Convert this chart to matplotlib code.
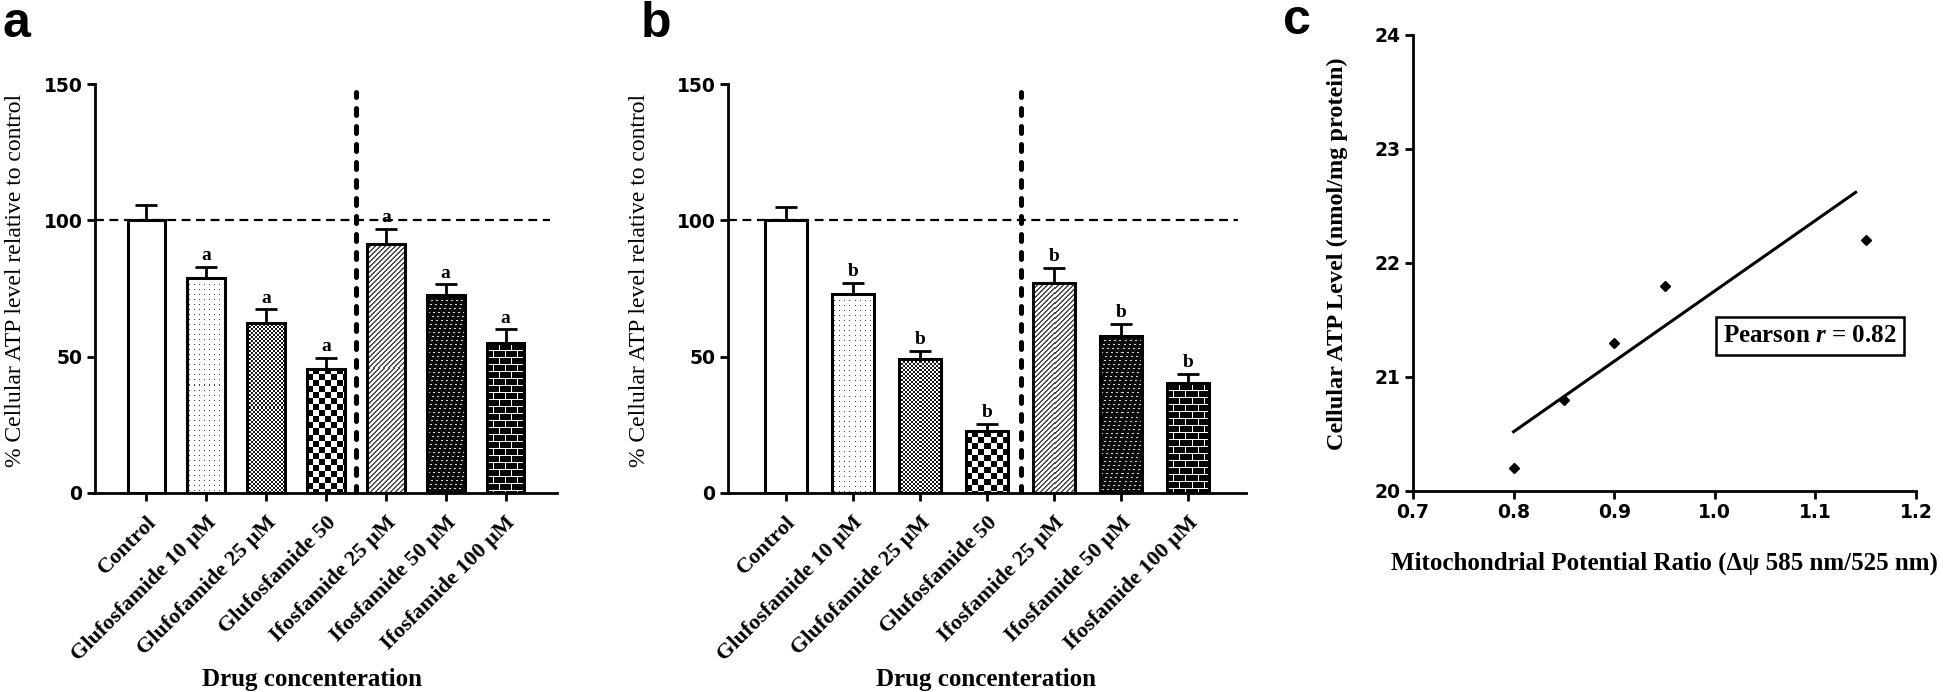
import numpy as np
import matplotlib.pyplot as plt

plt.rcParams['font.family'] = ['Liberation Serif', 'DejaVu Serif']
plt.rcParams['mathtext.fontset'] = 'custom'
plt.rcParams['mathtext.it'] = 'Liberation Serif:italic:bold'
plt.rcParams['mathtext.rm'] = 'Liberation Serif:bold'

# data
groups = ['Control', 'Glufosfamide 10 μM', 'Glufofamide 25 μM', 'Glufosfamide 50',
          'Ifosfamide 25 μM', 'Ifosfamide 50 μM', 'Ifosfamide 100 μM']
atp_a = [100, 79, 62.5, 45.5, 91.5, 72.5, 55]
err_a = [5.5, 4, 4.8, 4, 5.5, 4, 5]
sig_a = ['', 'a', 'a', 'a', 'a', 'a', 'a']
atp_b = [100, 73, 49, 22.7, 77, 57.7, 40.3]
err_b = [5, 4, 3, 2.5, 5.5, 4.3, 3.4]
sig_b = ['', 'b', 'b', 'b', 'b', 'b', 'b']
patterns = ['none', 'dots', 'fine', 'checker', 'diag', 'dash', 'brick']

mito_ratio = [0.8, 0.85, 0.9, 0.95, 1.15]
atp_level = [20.2, 20.8, 21.3, 21.8, 22.2]
fit_x = [0.8, 1.14]
fit_y = [20.52, 22.62]

num_font = 'DejaVu Sans'
W, H = 1943, 692
fig = plt.figure(figsize=(W / 100, H / 100), dpi=100)


def make_pattern(kind, nr, nc):
    i, j = np.mgrid[0:nr, 0:nc]
    if kind == 'dots':
        return ((i % 5 == 2) & (j % 5 == 2)) * 0.75
    if kind == 'fine':
        return ((i // 2 + j // 2) % 2) * 0.9
    if kind == 'checker':
        return ((i // 6 + j // 6) % 2) * 1.0
    if kind == 'diag':
        return ((i + j) % 5 < 2) * 0.7
    if kind == 'dash':
        white = (i % 4 == 1) & ((j + i // 4) % 5 < 2)
        return np.where(white, 0.15, 0.95)
    if kind == 'brick':
        row = i // 7
        mortar = (i % 7 == 0) | ((j + (row % 2) * 6) % 12 == 0)
        return np.where(mortar, 0.0, 1.0)
    return np.zeros((nr, nc))


def style_numbers(ax, size=13.5):
    for lab in ax.get_yticklabels():
        lab.set_fontfamily(num_font)
        lab.set_fontweight('bold')
        lab.set_fontsize(size)
    for sp in ['top', 'right']:
        ax.spines[sp].set_visible(False)
    for sp in ['left', 'bottom']:
        ax.spines[sp].set_linewidth(2)
    ax.tick_params(direction='out', length=6, width=2, pad=3)


def bar_panel(ax, vals, errs, sigs, pos):
    ax.set_position(pos)
    x = np.arange(len(groups))
    ax.set_xlim(-0.86, len(groups) - 0.14)
    ax.set_ylim(0, 150)
    bars = ax.bar(x, vals, 0.63, color='white', edgecolor='none', zorder=2)
    for rect, kind in zip(bars, patterns):
        if kind == 'none':
            continue
        x0, w, h = rect.get_x(), rect.get_width(), rect.get_height()
        (px0, py0), (px1, py1) = ax.transData.transform([(x0, 0), (x0 + w, h)])
        arr = make_pattern(kind, max(int(round(py1 - py0)), 1), max(int(round(px1 - px0)), 1))
        ax.imshow(arr, extent=(x0, x0 + w, 0, h), aspect='auto', interpolation='nearest',
                  cmap='gray_r', vmin=0, vmax=1, zorder=2.5)
    ax.bar(x, vals, 0.63, fill=False, edgecolor='black', linewidth=2.2, zorder=3)
    ax.errorbar(x, vals, yerr=[np.zeros(len(errs)), errs], fmt='none', ecolor='black',
                elinewidth=2, capsize=8, capthick=2, zorder=3.5)
    for xi, v, e, s in zip(x, vals, errs, sigs):
        ax.text(xi, v + e + 2.5, s, ha='center', va='baseline', fontsize=14,
                fontweight='bold', zorder=4)
    ax.axhline(100, xmax=0.985, color='black', lw=1.6, ls=(0, (4, 2.5)), zorder=4)
    ax.vlines(3.5, 0, 147, color='black', lw=3.6, linestyles=(0, (1.4, 2.2)),
              capstyle='round', zorder=4)
    ax.set_xlim(-0.86, len(groups) - 0.14)
    ax.set_ylim(0, 150)
    ax.set_yticks([0, 50, 100, 150])
    ax.set_xticks(x)
    ax.set_xticklabels(groups, rotation=45, ha='right', rotation_mode='anchor',
                       fontsize=16, fontweight='bold')
    style_numbers(ax)
    ax.tick_params(axis='x', pad=8)
    ax.set_ylabel('% Cellular ATP level relative to control', fontsize=17, va='center')
    ax.set_xlabel('Drug concenteration', fontsize=18, fontweight='bold', va='center')


ax_a = fig.add_axes([0, 0, 1, 1])
bar_panel(ax_a, atp_a, err_a, sig_a, [95 / W, 1 - 493 / H, 462 / W, 409 / H])
ax_a.yaxis.set_label_coords(-0.172, 0.52)
ax_a.xaxis.set_label_coords(0.47, -0.457)

ax_b = fig.add_axes([0, 0, 1, 1])
bar_panel(ax_b, atp_b, err_b, sig_b, [728 / W, 1 - 493 / H, 518 / W, 409 / H])
ax_b.yaxis.set_label_coords(-0.17, 0.52)
ax_b.xaxis.set_label_coords(0.498, -0.457)

# panel c: correlation
ax_c = fig.add_axes([1413 / W, 1 - 491 / H, 503 / W, 456 / H])
ax_c.plot(mito_ratio, atp_level, 'D', color='black', ms=5)
ax_c.plot(fit_x, fit_y, color='black', lw=2.2)
ax_c.set_xlim(0.7, 1.2)
ax_c.set_ylim(20, 24)
ax_c.set_xticks(np.arange(0.7, 1.21, 0.1))
ax_c.set_xticklabels(['%.1f' % v for v in np.arange(0.7, 1.21, 0.1)])
ax_c.set_yticks([20, 21, 22, 23, 24])
style_numbers(ax_c)
for lab in ax_c.get_xticklabels():
    lab.set_fontfamily(num_font)
    lab.set_fontweight('bold')
    lab.set_fontsize(13.5)
ax_c.set_ylabel('Cellular ATP Level (nmol/mg protein)', fontsize=17.5, fontweight='bold',
                va='center')
ax_c.set_xlabel('Mitochondrial Potential Ratio (Δψ 585 nm/525 nm)', fontsize=18,
                fontweight='bold', va='center')
ax_c.yaxis.set_label_coords(-0.15, 0.52)
ax_c.xaxis.set_label_coords(0.5, -0.158)
ax_c.text(0.789, 0.34, r'Pearson $r$ = 0.82', transform=ax_c.transAxes, ha='center',
          va='center', fontsize=18, fontweight='bold',
          bbox=dict(boxstyle='square,pad=0.3', facecolor='white', edgecolor='black', lw=1.8))

# panel letters
for xp, yp, letter in [(2, 37, 'a'), (641, 37, 'b'), (1283, 34, 'c')]:
    fig.text(xp / W, 1 - yp / H, letter, fontsize=36, fontweight='bold',
             family='Liberation Sans', va='baseline', ha='left')

fig.savefig('out.png', dpi=100)
